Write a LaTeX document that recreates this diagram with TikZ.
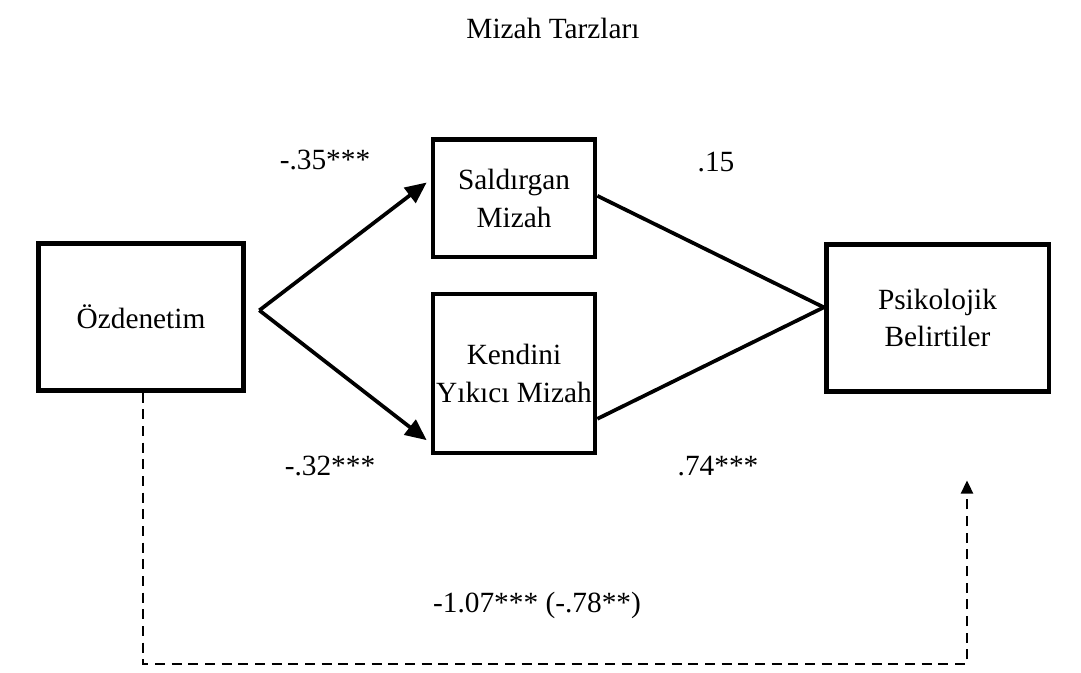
\documentclass[tikz,border=0pt]{standalone}
\usepackage{fontspec}
\setmainfont{Liberation Serif}
\usepackage{tikz}
\usetikzlibrary{arrows.meta,calc,positioning}

\tikzset{
  varbox/.style={draw, line width=3.5pt, align=center, inner sep=0pt},
  pathline/.style={line width=2.8pt},
  pathlabel/.style={inner sep=0pt},
  directline/.style={line width=1.9pt, dash pattern=on 7.5pt off 5pt}
}

\begin{document}
\begin{tikzpicture}[x=0.75pt,y=0.75pt,yscale=-1,xscale=1,font=\fontsize{22}{28}\selectfont]
\useasboundingbox (0,0) rectangle (1081,673);

%Text title
\node (title) at (553,28) {Mizah Tarzlar\i};

%Shape: Rectangle
\node [varbox, minimum width=154pt, minimum height=110pt] (ozdenetim) at (141,317) {\"Ozdenetim};
%Shape: Rectangle
\node [varbox, minimum width=121.5pt, minimum height=88pt] (saldirgan) at (514,198.5) {Sald\i rgan\\Mizah};
%Shape: Rectangle
\node [varbox, minimum width=121.5pt, minimum height=119pt] (kendini) at (514,373.5) {Kendini\\Y\i k\i c\i{} Mizah};
%Shape: Rectangle
\node [varbox, minimum width=167pt, minimum height=110pt] (psikolojik) at (937.5,318) {Psikolojik\\Belirtiler};

%Straight Lines
\coordinate (split) at ([xshift=10pt,yshift=-5pt]ozdenetim.east);
\coordinate (join) at ([yshift=-8pt]psikolojik.west);
\draw [pathline, -{Triangle[length=16pt,width=14pt]}] (split) -- ([xshift=-3pt,yshift=-12pt]saldirgan.west);
\draw [pathline, -{Triangle[length=16pt,width=14pt]}] (split) -- ([xshift=-3pt,yshift=50pt]kendini.west);
\draw [pathline] ([yshift=-2pt]saldirgan.east) -- (join);
\draw [pathline] ([yshift=34pt]kendini.east) -- (join);

%Dashed direct path
\coordinate (cornerl) at (143,664);
\coordinate (cornerr) at (967,664);
\draw [directline, -{Triangle[length=10pt,width=9pt]}] (ozdenetim.south -| cornerl) -- (cornerl) -- (cornerr) -- ([yshift=65pt]psikolojik.south -| cornerr);

%Labels
\node [pathlabel] (lab35) at (325,160) {-.35***};
\node [pathlabel] (lab15) at (716,162) {.15};
\node [pathlabel] (lab32) at (330,466) {-.32***};
\node [pathlabel] (lab74) at (718,466) {.74***};
\node [pathlabel] (labdirect) at (537,605) {-1.07*** (-.78**)};

\end{tikzpicture}
\end{document}
